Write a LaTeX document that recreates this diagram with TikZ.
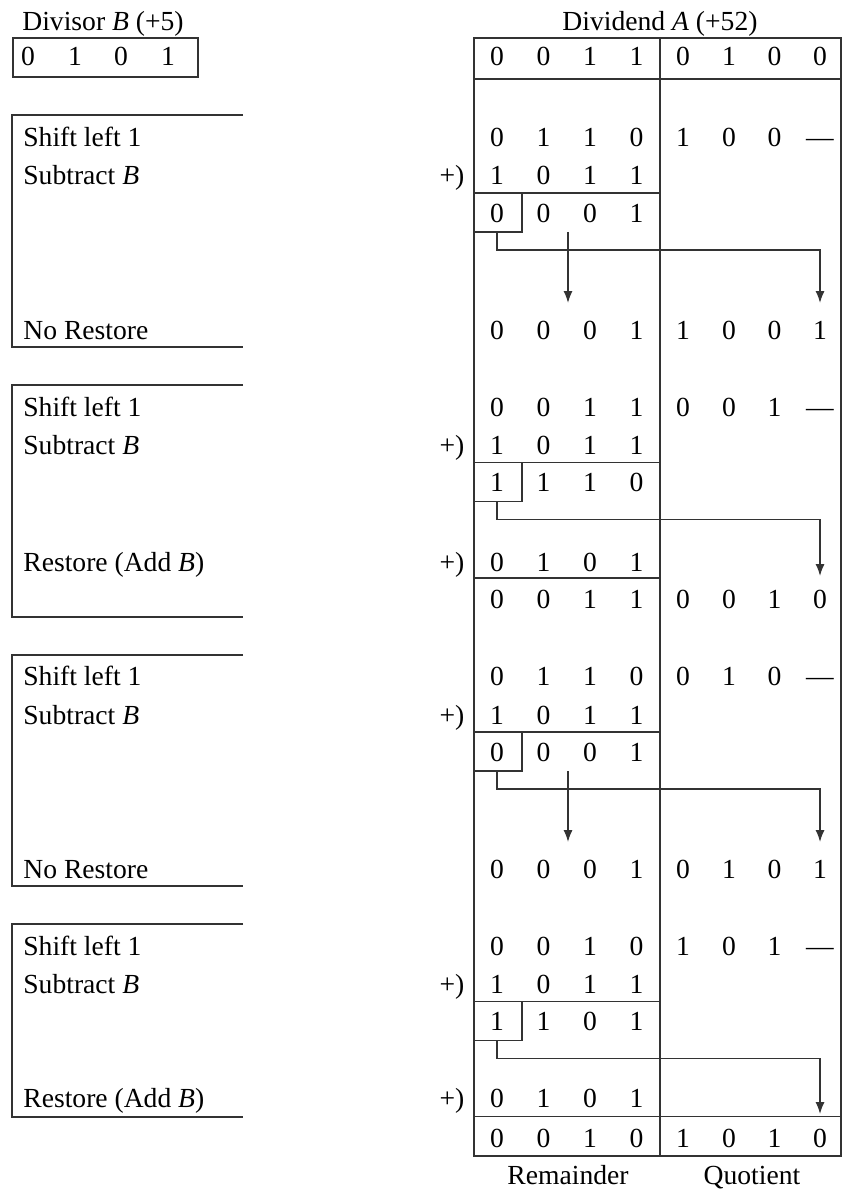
\documentclass[tikz,border=0pt]{standalone}
\usepackage{fontspec}
\setmainfont{Liberation Serif}
\usetikzlibrary{arrows.meta}
\newcommand\digrow[3]{\foreach \d [count=\i] in {#3}{%
  \pgfmathsetmacro\xx{{497,543.5,590,636.5,683,729,774.5,820}[\i-1]}%
  \node[dg] (#1-\i) at (\xx,#2+9) {\d};}}
\begin{document}
\begin{tikzpicture}[x=0.5pt,y=-0.5pt,
  ln/.style={draw=black!80,line width=0.8pt},
  dg/.style={inner sep=0pt,anchor=base,font=\fontsize{13.8}{16}\selectfont},
  lbl/.style={inner sep=0pt,anchor=base west,font=\fontsize{13.8}{16}\selectfont},
  arr/.style={ln,-{Latex[length=6pt,width=4.6pt]}}]
\useasboundingbox (0,0) rectangle (846,1198);
% titles
\node[lbl] (divl) at (22,22+9) {Divisor \textit{B} (+5)};
\node[dg] (dvdl) at (660,22+9) {Dividend \textit{A} (+52)};
\node[dg] (reml) at (568,1175+9) {Remainder};
\node[dg] (quol) at (752,1175+9) {Quotient};
% divisor box
\draw[ln] (13,38) rectangle (198,77);
\node[dg] (dv1) at (28,57+9) {0};
\node[dg] (dv2) at (75,57+9) {1};
\node[dg] (dv3) at (121,57+9) {0};
\node[dg] (dv4) at (168,57+9) {1};
% table frame
\draw[ln] (474,38) rectangle (841,1156);
\draw[ln] (660,38) -- (660,1156);
\draw[ln] (474,79) -- (841,79);
\digrow{h}{57}{0,0,1,1,0,1,0,0}
% ---------- block 1
\draw[ln] (243,115) -- (12,115) -- (12,347) -- (243,347);
\node[lbl] (t1a) at (23,137.5+9) {Shift left 1};
\node[lbl] (t1b) at (23,176+9) {Subtract \textit{B}};
\node[lbl] (t1c) at (23,330+9) {No Restore};
\digrow{s1}{137.5}{0,1,1,0,1,0,0,---}
\node[dg] (p1) at (452,176+9) {+)};
\digrow{u1}{176}{1,0,1,1}
\draw[ln] (474,193) -- (660,193);
\digrow{r1}{213}{0,0,0,1}
\draw[ln] (522,193) -- (522,232) -- (474,232);
\coordinate (b1s) at (497,232);
\coordinate (b1h) at (820,250);
\coordinate (b1t) at (820,303);
\coordinate (b1d) at (568,232);
\coordinate (b1e) at (568,303);
\draw[arr] (b1s) |- (b1h) -- (b1t);
\draw[arr] (b1d) -- (b1e);
\digrow{f1}{330}{0,0,0,1,1,0,0,1}
% ---------- block 2
\draw[ln] (243,385) -- (12,385) -- (12,617) -- (243,617);
\node[lbl] (t2a) at (23,407+9) {Shift left 1};
\node[lbl] (t2b) at (23,445.5+9) {Subtract \textit{B}};
\node[lbl] (t2c) at (23,562+9) {Restore (Add \textit{B})};
\digrow{s2}{407}{0,0,1,1,0,0,1,---}
\node[dg] (p2) at (452,445.5+9) {+)};
\digrow{u2}{445.5}{1,0,1,1}
\draw[ln] (474,462.5) -- (660,462.5);
\digrow{r2}{482.5}{1,1,1,0}
\draw[ln] (522,462.5) -- (522,501.5) -- (474,501.5);
\coordinate (b2s) at (497,501.5);
\coordinate (b2h) at (820,519.5);
\coordinate (b2t) at (820,576);
\draw[arr] (b2s) |- (b2h) -- (b2t);
\node[dg] (q2) at (452,562+9) {+)};
\digrow{a2}{562}{0,1,0,1}
\draw[ln] (474,578) -- (660,578);
\digrow{f2}{599.5}{0,0,1,1,0,0,1,0}
% ---------- block 3
\draw[ln] (243,655) -- (12,655) -- (12,886) -- (243,886);
\node[lbl] (t3a) at (23,676.5+9) {Shift left 1};
\node[lbl] (t3b) at (23,715+9) {Subtract \textit{B}};
\node[lbl] (t3c) at (23,869+9) {No Restore};
\digrow{s3}{676.5}{0,1,1,0,0,1,0,---}
\node[dg] (p3) at (452,715+9) {+)};
\digrow{u3}{715}{1,0,1,1}
\draw[ln] (474,732) -- (660,732);
\digrow{r3}{752}{0,0,0,1}
\draw[ln] (522,732) -- (522,771) -- (474,771);
\coordinate (b3s) at (497,771);
\coordinate (b3h) at (820,789);
\coordinate (b3t) at (820,842);
\coordinate (b3d) at (568,771);
\coordinate (b3e) at (568,842);
\draw[arr] (b3s) |- (b3h) -- (b3t);
\draw[arr] (b3d) -- (b3e);
\digrow{f3}{869}{0,0,0,1,0,1,0,1}
% ---------- block 4
\draw[ln] (243,924) -- (12,924) -- (12,1117) -- (243,1117);
\node[lbl] (t4a) at (23,946+9) {Shift left 1};
\node[lbl] (t4b) at (23,984.5+9) {Subtract \textit{B}};
\node[lbl] (t4c) at (23,1098+9) {Restore (Add \textit{B})};
\digrow{s4}{946}{0,0,1,0,1,0,1,---}
\node[dg] (p4) at (452,984.5+9) {+)};
\digrow{u4}{984.5}{1,0,1,1}
\draw[ln] (474,1001.5) -- (660,1001.5);
\digrow{r4}{1021.5}{1,1,0,1}
\draw[ln] (522,1001.5) -- (522,1040.5) -- (474,1040.5);
\coordinate (b4s) at (497,1040.5);
\coordinate (b4h) at (820,1058.5);
\coordinate (b4t) at (820,1114);
\draw[arr] (b4s) |- (b4h) -- (b4t);
\node[dg] (q4) at (452,1098+9) {+)};
\digrow{a4}{1098}{0,1,0,1}
\draw[ln] (474,1116.5) -- (841,1116.5);
\digrow{f4}{1138}{0,0,1,0,1,0,1,0}
\end{tikzpicture}
\end{document}
